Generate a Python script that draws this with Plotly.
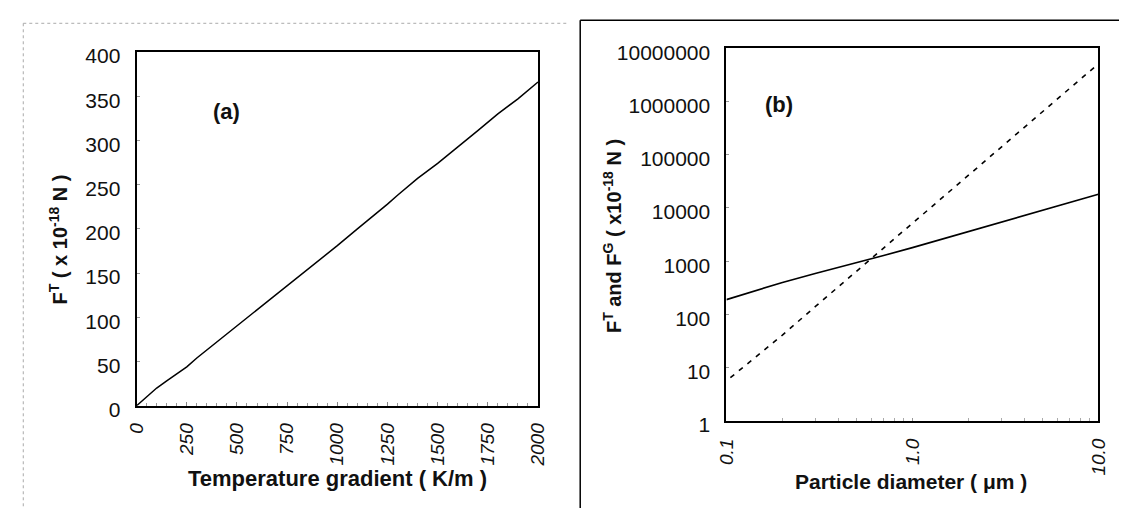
import plotly.graph_objects as go

# ---- Panel (a) data: thermophoretic force vs temperature gradient ----
grad_km = [0, 50, 100, 150, 200, 250, 300, 400, 500, 600, 700, 750, 800, 900,
           1000, 1100, 1200, 1250, 1300, 1400, 1500, 1600, 1700, 1800, 1900, 2000]
force_a = [0, 10, 20, 28, 36, 44, 54, 72, 90, 108, 126, 136, 145, 163,
           181, 200, 218, 228, 238, 257, 274, 292, 311, 330, 347, 366]
a_xticks = [0, 250, 500, 750, 1000, 1250, 1500, 1750, 2000]
a_yticks = [0, 50, 100, 150, 200, 250, 300, 350, 400]

# ---- Panel (b) data: forces vs particle diameter ----
diam_um = [0.1, 0.2, 0.3, 0.5, 0.7, 1.0, 2.0, 3.0, 5.0, 7.0, 10.0]
force_t = [190, 400, 590, 930, 1280, 1800, 3600, 5400, 9000, 12600, 18000]
diam_g = [0.105, 0.2, 0.3, 0.5, 0.7, 1.0, 2.0, 3.0, 5.0, 7.0, 9.6]
force_g = [6.5, 41, 140, 650, 1780, 5200, 41500, 140000, 650000, 1780000, 4500000]
b_xticks = [0.1, 1.0, 10.0]
b_xtext = ["0.1", "1.0", "10.0"]
b_xminor = [0.2, 0.3, 0.4, 0.5, 0.6, 0.7, 0.8, 0.9, 2, 3, 4, 5, 6, 7, 8, 9]
b_yticks = [1, 10, 100, 1000, 10000, 100000, 1000000, 10000000]
b_ytext = ["1", "10", "100", "1000", "10000", "100000", "1000000", "10000000"]

W, H = 1129, 523
FONT = "Liberation Sans, Arial, sans-serif"


def px(x):
    return x / W


def py(y):
    return 1 - y / H


fig = go.Figure()
fig.add_trace(go.Scatter(x=grad_km, y=force_a, mode="lines",
                         line=dict(color="black", width=1.5),
                         xaxis="x", yaxis="y", showlegend=False))
fig.add_trace(go.Scatter(x=diam_um, y=force_t, mode="lines",
                         line=dict(color="black", width=1.6),
                         xaxis="x2", yaxis="y2", showlegend=False))
fig.add_trace(go.Scatter(x=diam_g, y=force_g, mode="lines",
                         line=dict(color="black", width=1.6, dash="5px,6px"),
                         xaxis="x2", yaxis="y2", showlegend=False))

tickfont = dict(family=FONT, size=21, color="#111")
tickfont_it = dict(family=FONT, size=19, color="#111", style="italic")
frame = dict(showline=True, linecolor="black", linewidth=2, mirror=True,
             showgrid=False, zeroline=False)

fig.update_layout(
    width=W, height=H,
    margin=dict(l=0, r=0, t=0, b=0),
    paper_bgcolor="white", plot_bgcolor="white",
    showlegend=False,
    xaxis=dict(domain=[px(128), px(537)], anchor="y", range=[0, 2000],
               tickvals=a_xticks, ticktext=[str(v) for v in a_xticks],
               tickangle=-90, tickfont=tickfont_it,
               ticks="inside", ticklen=4, tickcolor="#888",
               ticklabelstandoff=8,
               minor=dict(dtick=50, ticks="inside", ticklen=3, tickcolor="#999"),
               **frame),
    yaxis=dict(domain=[py(416), py(46)], anchor="x", range=[0, 400],
               tickvals=a_yticks, ticktext=[str(v) for v in a_yticks],
               tickfont=tickfont, ticks="inside", ticklen=3, tickcolor="#999",
               ticklabelstandoff=10, ticklabelshift=4,
               **frame),
    xaxis2=dict(domain=[px(729), px(1108)], anchor="y2", type="log",
                range=[-1, 1], tickvals=b_xticks, ticktext=b_xtext,
                tickangle=-90, tickfont=tickfont_it,
                ticks="inside", ticklen=3, tickcolor="#999",
                ticklabelstandoff=8,
                minor=dict(tickmode="array", tickvals=b_xminor,
                           ticks="inside", ticklen=3, tickcolor="#aaa"),
                **frame),
    yaxis2=dict(domain=[py(432), py(42)], anchor="x2", type="log",
                range=[0, 7], tickvals=b_yticks, ticktext=b_ytext,
                tickfont=tickfont, ticks="inside", ticklen=3, tickcolor="#999",
                ticklabelstandoff=10, ticklabelshift=4,
                **frame),
)

annots = [
    dict(text="<b>Temperature gradient ( K/m )</b>", x=px(333), y=py(492), size=22),
    dict(text="<b>F<sup>T</sup> ( x 10<sup>-18</sup> N )</b>", x=px(48), y=py(242),
         textangle=-90, size=20),
    dict(text="<b>Particle diameter ( μm )</b>", x=px(917), y=py(495), size=21),
    dict(text="<b>F<sup>T</sup> and F<sup>G</sup> ( x10<sup>-18</sup> N )</b>",
         x=px(613), y=py(239), textangle=-90, size=20),
]
for a in annots:
    size = a.pop("size")
    fig.add_annotation(xref="paper", yref="paper", showarrow=False,
                       xanchor="center", yanchor="middle",
                       font=dict(family=FONT, size=size, color="#111"), **a)

fig.add_annotation(text="<b>(a)</b>", xref="paper", yref="paper",
                   x=px(204), y=py(93), showarrow=False,
                   font=dict(family=FONT, size=22, color="#111"))
fig.add_annotation(text="<b>(b)</b>", xref="paper", yref="paper",
                   x=px(799), y=py(86), showarrow=False,
                   font=dict(family=FONT, size=22, color="#111"))

# outer panel frames
fig.add_shape(type="line", xref="paper", yref="paper",
              x0=px(12.5), x1=px(567), y0=py(16), y1=py(16),
              line=dict(color="#aaa", width=1, dash="dot"))
fig.add_shape(type="line", xref="paper", yref="paper",
              x0=px(12.5), x1=px(12.5), y0=py(16), y1=0,
              line=dict(color="#aaa", width=1, dash="dot"))
fig.add_shape(type="line", xref="paper", yref="paper",
              x0=px(580), x1=1, y0=py(12.7), y1=py(12.7),
              line=dict(color="black", width=1.5))
fig.add_shape(type="line", xref="paper", yref="paper",
              x0=px(580), x1=px(580), y0=py(12.7), y1=0,
              line=dict(color="black", width=1.5))

fig.write_html("out.html")
